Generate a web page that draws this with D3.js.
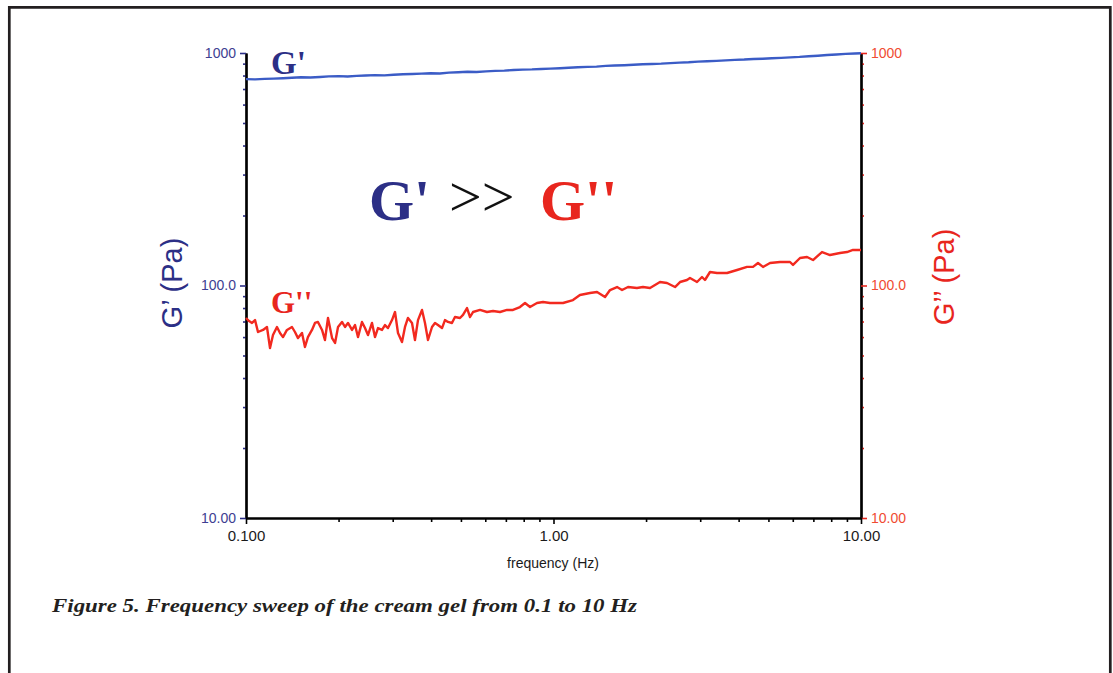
<!DOCTYPE html>
<html>
<head>
<meta charset="utf-8">
<script src="https://cdn.jsdelivr.net/npm/d3@7"></script>
<style>
  body { margin: 0; background: #fff; }
</style>
</head>
<body>
<div id="chart"></div>
<script>
// G' (storage modulus)
var gpFreq = [0.100,0.107,0.115,0.123,0.132,0.141,0.151,0.162,0.174,0.186,0.200,0.214,0.229,0.245,0.263,0.282,0.302,0.324,0.347,0.372,0.398,0.427,0.457,0.490,0.525,0.562,0.603,0.646,0.692,0.741,0.794,0.851,0.912,0.977,1.05,1.12,1.20,1.29,1.38,1.48,1.58,1.70,1.82,1.95,2.09,2.24,2.40,2.57,2.75,2.95,3.16,3.39,3.63,3.89,4.17,4.47,4.79,5.13,5.50,5.89,6.31,6.76,7.24,7.76,8.32,8.91,9.55,10.0];
var gpValues = [772,770,774,776,779,783,786,784,789,793,795,792,797,800,803,801,806,810,812,815,818,816,823,826,830,829,834,838,840,845,848,850,854,857,860,864,868,872,874,880,883,886,890,894,897,900,905,909,912,918,921,925,930,934,937,942,945,949,953,958,962,968,973,980,985,991,995,998];

// G'' (loss modulus)
var gppFreq = [0.100,0.1023,0.1046,0.1070,0.1094,0.1136,0.1170,0.1197,0.1224,0.1261,0.1290,0.1319,0.1359,0.1411,0.1443,0.1476,0.1521,0.1555,0.1590,0.1639,0.1676,0.1714,0.1767,0.1806,0.1848,0.1905,0.1948,0.1992,0.2052,0.2099,0.2146,0.2212,0.2262,0.2313,0.2383,0.2438,0.2493,0.2569,0.2627,0.2687,0.2769,0.2831,0.2896,0.2984,0.3052,0.3121,0.3216,0.3289,0.3363,0.3466,0.3544,0.3625,0.3736,0.3820,0.3907,0.4026,0.4117,0.4210,0.4339,0.4437,0.4537,0.4675,0.4782,0.4966,0.5078,0.5233,0.5352,0.5473,0.5768,0.6077,0.6358,0.6699,0.7061,0.7385,0.7781,0.8079,0.8387,0.8838,0.9244,0.9741,1.027,1.074,1.157,1.219,1.314,1.385,1.471,1.527,1.609,1.671,1.747,1.868,1.954,2.060,2.220,2.339,2.484,2.579,2.717,2.779,2.929,3.040,3.109,3.228,3.402,3.667,3.953,4.259,4.455,4.624,4.800,5.060,5.453,5.877,6.011,6.334,6.675,6.982,7.467,7.929,8.545,9.005,9.419,10.0];
var gppValues = [72.5,70.3,69.0,71.0,63.1,64.4,66.3,53.8,61.2,66.3,62.5,60.0,64.4,66.3,63.1,59.4,62.5,54.4,60.0,64.4,69.0,69.7,64.4,58.3,72.5,59.4,56.6,66.3,69.7,66.3,69.0,64.4,67.6,60.0,69.7,65.6,61.2,69.0,60.0,65.6,64.4,67.6,65.6,71.0,76.9,62.5,57.1,66.3,72.5,69.0,58.3,71.0,78.5,69.0,58.3,66.3,69.0,67.6,65.6,71.0,69.7,69.0,73.2,72.5,74.7,80.0,73.2,76.9,78.5,76.9,77.7,76.9,78.5,78.5,80.8,84.1,80.8,84.1,84.9,84.1,84.1,84.1,86.6,91.0,92.8,93.8,89.2,95.6,98.5,95.6,98.5,97.5,98.5,97.5,103.5,102.5,98.5,103.5,105.6,107.7,103.5,108.8,105.6,114.3,113.2,113.2,116.6,120.2,120.2,125.0,120.2,125.0,126.2,126.2,122.6,131.3,132.6,128.7,139.3,135.2,137.9,139.3,142.2,142.2];

var xTicks = [0.1, 1, 10];
var xTickLabels = ["0.100", "1.00", "10.00"];
var yTicks = [10, 100, 1000];
var yTickLabels = ["10.00", "100.0", "1000"];

var blue = "#2c2f86", lineBlue = "#3b5cc6", red = "#e8261e", lineRed = "#f2291f";
var sans = "Liberation Sans, Arial, sans-serif";
var serif = "Liberation Serif, Times New Roman, serif";

var svg = d3.select("#chart").append("svg")
  .attr("width", 1113).attr("height", 673);

// page frame (open at the bottom)
svg.append("path")
  .attr("d", "M9.3,700 V7.3 H1110.3 V700")
  .attr("fill", "none").attr("stroke", "#231f20").attr("stroke-width", 2.7);

var x = d3.scaleLog().domain([0.1, 10]).range([246, 861]);
var y = d3.scaleLog().domain([10, 1000]).range([518, 53]);

var yMinor = [];
[10, 100].forEach(function (d) { for (var k = 2; k <= 9; k++) yMinor.push(d * k); });
var xMinor = [];
[0.1, 1].forEach(function (d) { for (var k = 2; k <= 9; k++) xMinor.push(+(d * k).toFixed(2)); });

function styleAxis(g, color, labelColor, size) {
  g.attr("font-family", sans).attr("font-size", size);
  g.select(".domain").attr("stroke", "#000").attr("stroke-width", 2.2);
  g.selectAll(".tick line").attr("stroke", color).attr("stroke-width", 1.6);
  g.selectAll(".tick text").attr("fill", labelColor);
}

// left axis
var gl = svg.append("g").attr("transform", "translate(246,0)")
  .call(d3.axisLeft(y).tickValues(yMinor).tickSize(3).tickFormat("").tickSizeOuter(0));
styleAxis(gl, blue, blue, 14);
var gl2 = svg.append("g").attr("transform", "translate(246,0)")
  .call(d3.axisLeft(y).tickValues(yTicks).tickSize(6).tickPadding(4).tickSizeOuter(0)
    .tickFormat(function (d, i) { return yTickLabels[i]; }));
styleAxis(gl2, blue, "#3e3e92", 14);

// right axis
var gr = svg.append("g").attr("transform", "translate(861,0)")
  .call(d3.axisRight(y).tickValues(yMinor).tickSize(3).tickFormat("").tickSizeOuter(0));
styleAxis(gr, red, red, 14);
var gr2 = svg.append("g").attr("transform", "translate(861,0)")
  .call(d3.axisRight(y).tickValues(yTicks).tickSize(6).tickPadding(4).tickSizeOuter(0)
    .tickFormat(function (d, i) { return yTickLabels[i]; }));
styleAxis(gr2, red, "#f04b32", 14);

// bottom axis
var gb = svg.append("g").attr("transform", "translate(0,518)")
  .call(d3.axisBottom(x).tickValues(xMinor).tickSize(4).tickFormat("").tickSizeOuter(0));
styleAxis(gb, "#000", "#000", 15);
var gb2 = svg.append("g").attr("transform", "translate(0,518)")
  .call(d3.axisBottom(x).tickValues(xTicks).tickSize(6).tickPadding(6).tickSizeOuter(0)
    .tickFormat(function (d, i) { return xTickLabels[i]; }));
styleAxis(gb2, "#000", "#1a1a1a", 15);

// data lines
var gp = gpFreq.map(function (f, i) { return [f, gpValues[i]]; });
var gpp = gppFreq.map(function (f, i) { return [f, gppValues[i]]; });
var line = d3.line().x(function (d) { return x(d[0]); }).y(function (d) { return y(d[1]); });

svg.append("path").datum(gp).attr("d", line)
  .attr("fill", "none").attr("stroke", lineBlue).attr("stroke-width", 2.4);
svg.append("path").datum(gpp).attr("d", line)
  .attr("fill", "none").attr("stroke", lineRed).attr("stroke-width", 2.4)
  .attr("stroke-linejoin", "round");

// axis titles
svg.append("text")
  .attr("transform", "translate(182,283) rotate(-90)")
  .attr("text-anchor", "middle").attr("font-family", sans).attr("font-size", 29).attr("fill", blue)
  .text("G’ (Pa)");
svg.append("text")
  .attr("transform", "translate(954,277) rotate(-90)")
  .attr("text-anchor", "middle").attr("font-family", sans).attr("font-size", 29).attr("fill", red)
  .text("G’’ (Pa)");
svg.append("text")
  .attr("x", 553).attr("y", 568)
  .attr("text-anchor", "middle").attr("font-family", sans).attr("font-size", 14).attr("fill", "#1a1a1a")
  .text("frequency (Hz)");

// curve labels
svg.append("text").attr("x", 271).attr("y", 74)
  .attr("font-family", serif).attr("font-weight", "bold").attr("font-size", 33)
  .attr("fill", blue).text("G'");
svg.append("text").attr("x", 271).attr("y", 313)
  .attr("font-family", serif).attr("font-weight", "bold").attr("font-size", 31)
  .attr("fill", red).text("G''");

// big annotation
svg.append("text").attr("x", 369).attr("y", 220)
  .attr("font-family", serif).attr("font-weight", "bold").attr("font-size", 58)
  .attr("fill", blue).text("G'");
svg.append("text").attr("x", 449).attr("y", 216)
  .attr("font-family", serif).attr("font-size", 58)
  .attr("fill", "#111").text(">>");
svg.append("text").attr("x", 540).attr("y", 220)
  .attr("font-family", serif).attr("font-weight", "bold").attr("font-size", 58)
  .attr("fill", red).text("G''");

// caption
svg.append("text").attr("x", 52).attr("y", 612)
  .attr("font-family", serif).attr("font-weight", "bold").attr("font-style", "italic")
  .attr("font-size", 19).attr("fill", "#231f20")
  .attr("textLength", 585).attr("lengthAdjust", "spacingAndGlyphs")
  .text("Figure 5. Frequency sweep of the cream gel from 0.1 to 10 Hz");
</script>
</body>
</html>
